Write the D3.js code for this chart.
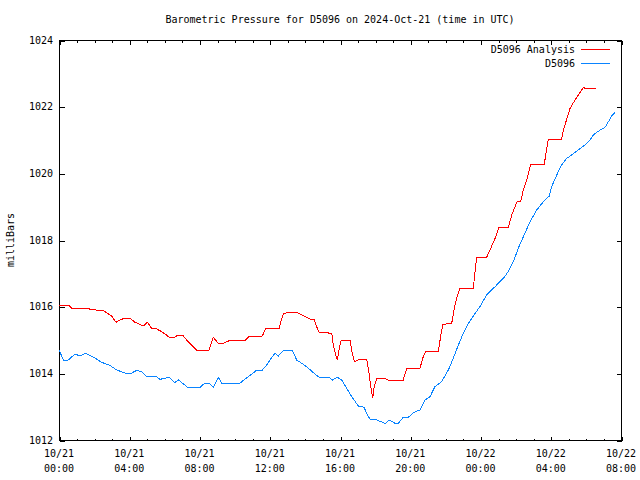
<!DOCTYPE html>
<html>
<head>
<meta charset="utf-8">
<script src="https://cdn.jsdelivr.net/npm/d3@7"></script>
<style>
  html, body { margin: 0; padding: 0; background: #fff; }
  svg { display: block; }
  text { font-family: "DejaVu Sans Mono", "Liberation Mono", monospace; font-size: 10px; fill: #000; }
</style>
</head>
<body>
<svg id="chart" width="640" height="480"></svg>
<script>
// ---- data (hours since 2024-10-21 00:00 UTC, pressure in mb) ----
const analysisHours = [0, 0.53, 0.72, 1.67, 1.77, 2.05, 2.15, 2.53, 2.81, 3.0,
  3.25, 3.47, 3.72, 4.04, 4.33, 4.61, 4.8, 5.03, 5.28, 5.56,
  5.85, 6.04, 6.28, 6.55, 6.8, 7.04, 7.27, 7.55, 7.84, 8.54,
  8.79, 9.07, 9.36, 9.74, 10.6, 10.84, 11.58, 11.77, 12.55, 12.64,
  12.77, 13.0, 13.53, 13.82, 14.1, 14.29, 14.52, 14.67, 14.82, 15.15,
  15.53, 15.62, 15.73, 15.85, 15.96, 16.07, 16.57, 16.68, 16.82, 17.04,
  17.42, 17.52, 17.63, 17.75, 17.86, 17.95, 18.09, 18.56, 18.75, 19.6,
  19.8, 20.55, 20.74, 20.88, 21.6, 21.73, 21.85, 22.36, 22.49, 22.64,
  22.83, 23.59, 23.69, 23.78, 24.35, 24.54, 24.83, 25.05, 25.58, 25.78,
  26.1, 26.29, 26.44, 26.63, 26.86, 27.63, 27.73, 27.86, 28.62, 28.72,
  29.1, 29.38, 29.85, 29.99, 30.6];
const analysisValues = [1016.05, 1016.05, 1015.95, 1015.95, 1015.92, 1015.92, 1015.89, 1015.89, 1015.78, 1015.72,
  1015.53, 1015.6, 1015.65, 1015.65, 1015.53, 1015.47, 1015.42, 1015.53, 1015.35, 1015.33,
  1015.25, 1015.18, 1015.08, 1015.08, 1015.15, 1015.15, 1015.0, 1014.85, 1014.69, 1014.69,
  1015.08, 1014.9, 1014.9, 1014.99, 1014.99, 1015.11, 1015.12, 1015.35, 1015.35, 1015.58,
  1015.78, 1015.83, 1015.83, 1015.75, 1015.68, 1015.63, 1015.63, 1015.4, 1015.22, 1015.22,
  1015.2, 1014.85, 1014.6, 1014.4, 1014.75, 1015.0, 1015.0, 1014.65, 1014.35, 1014.4,
  1014.42, 1014.42, 1014.1, 1013.6, 1013.25, 1013.6, 1013.85, 1013.85, 1013.8, 1013.8,
  1014.15, 1014.15, 1014.5, 1014.67, 1014.67, 1015.1, 1015.47, 1015.5, 1015.9, 1016.25,
  1016.55, 1016.55, 1017.05, 1017.48, 1017.48, 1017.7, 1018.05, 1018.38, 1018.38, 1018.75,
  1019.17, 1019.17, 1019.5, 1019.8, 1020.27, 1020.27, 1020.6, 1021.03, 1021.03, 1021.3,
  1021.95, 1022.2, 1022.57, 1022.55, 1022.55];

const stationHours = [0, 0.25, 0.53, 0.91, 1.2, 1.52, 1.77, 2.05, 2.43, 2.9,
  3.28, 3.76, 4.14, 4.42, 4.71, 4.99, 5.56, 5.75, 6.28, 6.57,
  6.8, 7.33, 8.03, 8.31, 8.54, 8.79, 9.07, 9.26, 10.31, 10.88,
  11.16, 11.26, 11.58, 11.82, 12.01, 12.3, 12.49, 12.77, 13.3, 13.53,
  13.82, 14.1, 14.48, 14.82, 15.37, 15.58, 15.85, 16.1, 16.38, 16.67,
  17.04, 17.37, 17.52, 17.71, 18.09, 18.47, 18.56, 18.81, 19.13, 19.32,
  19.6, 19.89, 20.17, 20.55, 20.84, 21.13, 21.4, 21.79, 22.17, 22.45,
  22.74, 23.02, 23.31, 23.69, 23.97, 24.35, 24.83, 25.3, 25.58, 25.87,
  26.15, 26.44, 26.82, 27.2, 27.58, 27.92, 28.05, 28.34, 28.62, 28.91,
  29.19, 29.57, 29.95, 30.24, 30.42, 30.81, 31.09, 31.34, 31.47, 31.66];
const stationValues = [1014.7, 1014.4, 1014.4, 1014.58, 1014.52, 1014.6, 1014.54, 1014.46, 1014.33, 1014.24,
  1014.1, 1014.01, 1014.01, 1014.09, 1014.05, 1013.9, 1013.9, 1013.82, 1013.88, 1013.72,
  1013.8, 1013.58, 1013.58, 1013.71, 1013.71, 1013.58, 1013.88, 1013.71, 1013.71, 1013.94,
  1014.05, 1014.1, 1014.1, 1014.25, 1014.4, 1014.6, 1014.52, 1014.68, 1014.68, 1014.4,
  1014.3, 1014.2, 1014.02, 1013.88, 1013.88, 1013.8, 1013.88, 1013.8, 1013.55, 1013.3,
  1013.02, 1012.98, 1012.8, 1012.62, 1012.6, 1012.52, 1012.48, 1012.6, 1012.5, 1012.5,
  1012.68, 1012.68, 1012.82, 1012.9, 1013.2, 1013.3, 1013.6, 1013.75, 1014.1, 1014.45,
  1014.85, 1015.2, 1015.5, 1015.8, 1016.0, 1016.35, 1016.6, 1016.85, 1017.05, 1017.35,
  1017.75, 1018.1, 1018.55, 1018.9, 1019.15, 1019.32, 1019.6, 1019.95, 1020.25, 1020.45,
  1020.55, 1020.7, 1020.85, 1021.0, 1021.15, 1021.3, 1021.38, 1021.6, 1021.72, 1021.82];

const seriesNames = ["D5096 Analysis", "D5096"];
const seriesColors = ["#ff0000", "#0a84ff"];
const yTickValues = [1012, 1014, 1016, 1018, 1020, 1022, 1024];
const xTickDates = ["10/21", "10/21", "10/21", "10/21", "10/21", "10/21", "10/22", "10/22", "10/22"];
const xTickTimes = ["00:00", "04:00", "08:00", "12:00", "16:00", "20:00", "00:00", "04:00", "08:00"];
const titleText = "Barometric Pressure for D5096 on 2024-Oct-21 (time in UTC)";
const yLabelText = "milliBars";

// ---- layout ----
const svg = d3.select("#chart");
const L = 59, R = 621, T = 40, B = 440;
const t0 = Date.UTC(2024, 9, 21, 0, 0);
const toDate = h => new Date(t0 + h * 3600e3);

const x = d3.scaleUtc().domain([toDate(0), toDate(32)]).range([L, R]);
const y = d3.scaleLinear().domain([1012, 1024]).range([B, T]);

// series
const series = [
  analysisHours.map((h, i) => ({ t: toDate(h), v: analysisValues[i] })),
  stationHours.map((h, i) => ({ t: toDate(h), v: stationValues[i] }))
];
const line = d3.line().x(d => x(d.t)).y(d => y(d.v));

// ticks
const majorTicks = d3.range(0, 33, 4).map(toDate);
const minorTicks = d3.range(0, 33, 1).filter(h => h % 4 !== 0).map(toDate);

const axisG = svg.append("g").attr("shape-rendering", "crispEdges");
const xAxisBottom = d3.axisBottom(x).tickValues(majorTicks).tickSizeInner(-4).tickSizeOuter(0).tickFormat(() => "");
const xAxisBottomMinor = d3.axisBottom(x).tickValues(minorTicks).tickSizeInner(-2).tickSizeOuter(0).tickFormat(() => "");
const xAxisTop = d3.axisTop(x).tickValues(majorTicks).tickSizeInner(-4).tickSizeOuter(0).tickFormat(() => "");
const xAxisTopMinor = d3.axisTop(x).tickValues(minorTicks).tickSizeInner(-2).tickSizeOuter(0).tickFormat(() => "");
const yAxisLeft = d3.axisLeft(y).tickValues(yTickValues).tickSizeInner(-5).tickSizeOuter(0).tickFormat(() => "");
const yAxisRight = d3.axisRight(y).tickValues(yTickValues).tickSizeInner(-5).tickSizeOuter(0).tickFormat(() => "");

[[xAxisBottom, `translate(0.5,${B + 0.5})`], [xAxisBottomMinor, `translate(0.5,${B + 0.5})`],
 [xAxisTop, `translate(0.5,${T + 0.5})`], [xAxisTopMinor, `translate(0.5,${T + 0.5})`],
 [yAxisLeft, `translate(${L + 0.5},0.5)`], [yAxisRight, `translate(${R + 0.5},0.5)`]].forEach(([ax, tr]) => {
  const g = axisG.append("g").attr("transform", tr).call(ax);
  g.select(".domain").remove();
  g.selectAll("line").attr("stroke", "#000").attr("stroke-width", 1);
});

// frame
axisG.append("rect")
  .attr("x", L + 0.5).attr("y", T + 0.5)
  .attr("width", R - L).attr("height", B - T)
  .attr("fill", "none").attr("stroke", "#000").attr("stroke-width", 1);

// y tick labels
svg.append("g").selectAll("text").data(yTickValues).join("text")
  .attr("x", L - 6).attr("y", d => y(d) + 3.5)
  .attr("text-anchor", "end")
  .text(d => d);

// x tick labels
const xl = svg.append("g").selectAll("g").data(majorTicks).join("g")
  .attr("transform", d => `translate(${x(d)},0)`);
xl.append("text").attr("y", 457).attr("text-anchor", "middle").text((d, i) => xTickDates[i]);
xl.append("text").attr("y", 472).attr("text-anchor", "middle").text((d, i) => xTickTimes[i]);

// title
svg.append("text").attr("x", (L + R) / 2).attr("y", 23).attr("text-anchor", "middle").text(titleText);

// y label
svg.append("text")
  .attr("transform", `translate(14,${(T + B) / 2}) rotate(-90)`)
  .attr("text-anchor", "middle")
  .text(yLabelText);

// lines
svg.append("g").selectAll("path").data(series).join("path")
  .attr("d", line)
  .attr("fill", "none")
  .attr("stroke", (d, i) => seriesColors[i])
  .attr("stroke-width", 1)
  .attr("shape-rendering", "crispEdges");

// legend
const legendItems = seriesNames.map((name, i) => ({ name, color: seriesColors[i], row: i }));
const lg = svg.append("g").selectAll("g").data(legendItems).join("g")
  .attr("transform", d => `translate(0,${49 + d.row * 14})`);
lg.append("text").attr("x", 575).attr("y", 3.5).attr("text-anchor", "end").text(d => d.name);
lg.append("line").attr("x1", 581).attr("x2", 610).attr("y1", 0.5).attr("y2", 0.5)
  .attr("stroke", d => d.color).attr("stroke-width", 1).attr("shape-rendering", "crispEdges");
</script>
</body>
</html>
